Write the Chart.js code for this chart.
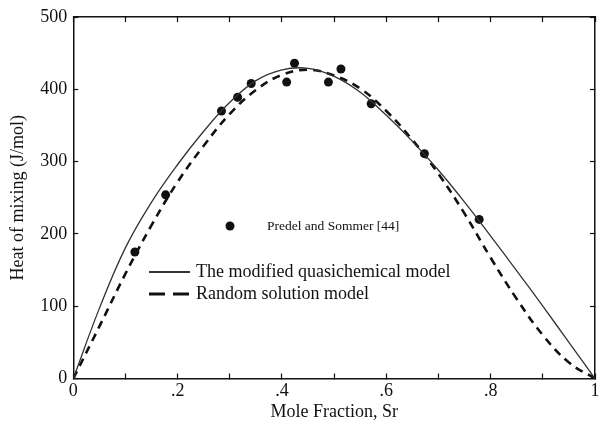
<!DOCTYPE html>
<html>
<head>
<meta charset="utf-8">
<script src="https://cdn.jsdelivr.net/npm/chart.js@4.4.1/dist/chart.umd.min.js"></script>
<style>
  html, body { margin: 0; padding: 0; background: #fff; }
  #wrap { width: 601px; height: 433px; }
</style>
</head>
<body>
<div id="wrap"><canvas id="chart" width="601" height="433"></canvas></div>
<script>
// mole fraction grid for the two model curves
const moleFraction = [0, 0.05, 0.1, 0.15, 0.2, 0.25, 0.3, 0.35, 0.4, 0.45, 0.5,
  0.55, 0.6, 0.65, 0.7, 0.75, 0.8, 0.85, 0.9, 0.95, 1]

const quasichemical = [0, 97, 181, 244, 296, 342, 382, 412, 427, 429, 418,
  396, 364, 328, 288, 244, 197, 149, 100, 50, 0]

const randomSolution = [0, 72, 145, 212, 272, 322, 366, 399, 420, 427, 419,
  401, 370, 330, 283, 228, 167, 110, 60, 22, 0]

// measured heats of mixing
const measuredX = [0.118, 0.177, 0.284, 0.315, 0.341, 0.409, 0.424, 0.489, 0.513, 0.571, 0.673, 0.778]
const measuredH = [175, 254, 370, 389, 408, 410, 436, 410, 428, 380, 311, 220]

const labels = {
  measured: 'Predel and Sommer [44]',
  quasi: 'The modified quasichemical model',
  random: 'Random solution model',
}

const serif = 'Liberation Serif, Times New Roman, serif'

const toPoints = (xs, ys) => xs.map((x, i) => ({x, y: ys[i]}))

const xTickLabel = (v) => {
  const t = Math.round(v * 10)
  if (t % 2) return ''
  if (t === 0) return '0'
  if (t === 10) return '1'
  return '.' + t
}

// inward tick marks on all four sides
const frameGrid = {
  drawOnChartArea: false,
  tickLength: -5,
  tickColor: '#111',
  tickWidth: 1.2,
}
const frameBorder = {display: true, color: '#111', width: 1.5}

// fixed box sizes so the plot frame lands where it should
const fixBox = (size) => (s) => {
  if (s.isHorizontal()) s.height = size
  else s.width = size
  s.paddingLeft = s.paddingRight = s.paddingTop = s.paddingBottom = 0
}

// legend drawn inside the plot area
const keyBox = {
  id: 'keyBox',
  afterDraw(chart) {
    const ctx = chart.ctx
    const ds = chart.data.datasets
    ctx.save()

    // measured points entry
    ctx.fillStyle = ds[2].backgroundColor
    ctx.beginPath()
    ctx.arc(230, 226, 4.5, 0, Math.PI * 2)
    ctx.fill()
    ctx.font = '13.5px ' + serif
    ctx.textBaseline = 'middle'
    ctx.fillText(ds[2].label, 267, 226)

    // line entries
    const rows = [[ds[0], 272, 2], [ds[1], 294, 3]]
    ctx.font = '18px ' + serif
    rows.forEach(([d, y, w]) => {
      ctx.strokeStyle = d.borderColor
      ctx.lineWidth = w
      ctx.setLineDash(d.borderDash ? [16, 8] : [])
      ctx.beginPath()
      ctx.moveTo(149, y)
      ctx.lineTo(190, y)
      ctx.stroke()
      ctx.fillStyle = '#111'
      ctx.fillText(d.label, 196, y)
    })
    ctx.restore()
  },
}

new Chart(document.getElementById('chart'), {
  type: 'scatter',
  data: {
    datasets: [
      {
        label: labels.quasi,
        data: toPoints(moleFraction, quasichemical),
        showLine: true,
        borderColor: '#333',
        borderWidth: 1.3,
        pointRadius: 0,
        tension: 0.4,
      },
      {
        label: labels.random,
        data: toPoints(moleFraction, randomSolution),
        showLine: true,
        borderColor: '#111',
        borderWidth: 2.6,
        borderDash: [8, 6],
        pointRadius: 0,
        tension: 0.4,
      },
      {
        label: labels.measured,
        data: toPoints(measuredX, measuredH),
        backgroundColor: '#111',
        borderWidth: 0,
        pointRadius: 4.5,
      },
    ],
  },
  options: {
    responsive: false,
    animation: false,
    layout: {padding: 0},
    plugins: {
      legend: {display: false},
      tooltip: {enabled: false},
    },
    scales: {
      x: {
        type: 'linear',
        position: 'bottom',
        min: 0,
        max: 1,
        ticks: {
          stepSize: 0.1,
          autoSkip: false,
          maxRotation: 0,
          color: '#111',
          font: {family: serif, size: 18},
          padding: 7,
          callback: xTickLabel,
        },
        grid: frameGrid,
        border: frameBorder,
        title: {
          display: true,
          text: 'Mole Fraction, Sr',
          color: '#111',
          font: {family: serif, size: 18},
          padding: {top: 0, bottom: 10},
        },
        afterFit: fixBox(54.5),
      },
      x2: {
        type: 'linear',
        position: 'top',
        min: 0,
        max: 1,
        ticks: {stepSize: 0.1, display: false},
        grid: frameGrid,
        border: frameBorder,
        afterFit: fixBox(17),
      },
      y: {
        position: 'left',
        min: 0,
        max: 500,
        ticks: {
          stepSize: 100,
          color: '#111',
          font: {family: serif, size: 18},
          padding: 11,
        },
        grid: frameGrid,
        border: frameBorder,
        title: {
          display: true,
          text: 'Heat of mixing (J/mol)',
          color: '#111',
          font: {family: serif, size: 18},
          padding: {top: 7, bottom: 0},
        },
        afterFit: fixBox(73.3),
      },
      y2: {
        position: 'right',
        min: 0,
        max: 500,
        ticks: {stepSize: 100, display: false},
        grid: frameGrid,
        border: frameBorder,
        afterFit: fixBox(6),
      },
    },
  },
  plugins: [keyBox],
})
</script>
</body>
</html>
